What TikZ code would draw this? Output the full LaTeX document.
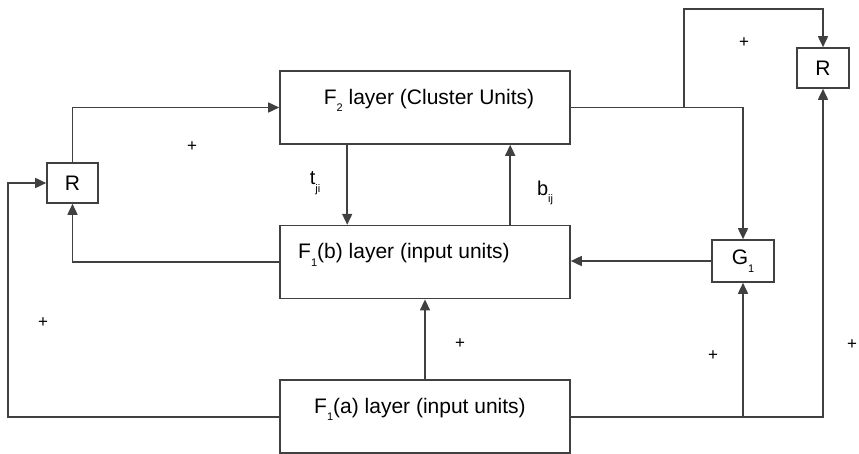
\documentclass[tikz,border=0pt]{standalone}
\usepackage{fontspec}
\setmainfont{Liberation Sans}
\usetikzlibrary{arrows.meta,positioning}
\definecolor{ink}{HTML}{404040}
\newcommand{\lowsub}[1]{\raisebox{-0.7ex}{\fontsize{11}{11}\selectfont #1}}

\begin{document}
\begin{tikzpicture}[
  x=1pt, y=-1pt,
  node distance=80pt,
  box/.style={draw=ink, line width=1.6pt, inner sep=0pt, font=\fontsize{21}{24}\selectfont},
  layer/.style={box, minimum width=290pt, text height=33pt, text depth=40pt},
  arr/.style={-{Triangle[length=11pt,width=10pt]}, draw=ink, line width=1.6pt},
  lbl/.style={font=\fontsize{20}{24}\selectfont, inner sep=0pt},
  sign/.style={font=\fontsize{17}{20}\selectfont, inner sep=0pt}
]
  \useasboundingbox (0,0) rectangle (859,453);
  % layers
  \node[layer] (F2) at (425,107.5) {\kern8pt F\lowsub{2} layer (Cluster Units)};
  \node[layer, below=80pt of F2] (F1b) {F\lowsub{1}(b) layer (input units)\kern42pt};
  \node[layer, below=80pt of F1b] (F1a) {F\lowsub{1}(a) layer (input units)\kern10pt};
  % small boxes
  \node[box, minimum width=51pt, minimum height=40pt] (Rl) at (72.5,183) {R};
  \node[box, minimum width=52pt, minimum height=40pt] (Rr) at (823,68) {R};
  \node[box, minimum width=62pt, minimum height=42pt] (G1) at (743,261) {G\lowsub{1}};
  \coordinate (lc) at (8,183);
  \coordinate (br) at (684,107.5);
  \coordinate (tp) at (684,9);
  % connectors
  \draw[arr] (F1a.west) -| (lc) -- (Rl.west);
  \draw[arr] (F1b.west) -| (Rl.south);
  \draw[arr] (Rl.north) |- (F2.west);
  \draw[arr] ([xshift=68pt]F2.south west) -- ([xshift=68pt]F1b.north west);
  \draw[arr] ([xshift=231pt]F1b.north west) -- ([xshift=231pt]F2.south west);
  \draw[arr] (F2.east) -| (G1.north);
  \draw[arr] (br) -- (tp) -| (Rr.north);
  \draw[arr] (G1.west) -- (F1b.east |- G1.west);
  \draw[arr] (F1a.east) -| (Rr.south);
  \draw[arr] (F1a.east -| G1.south) -- (G1.south);
  \draw[arr] (F1a.north) -- (F1b.south);
  % labels
  \node[lbl] (tji) at (315,183) {t\lowsub{ji}};
  \node[lbl] (bij) at (545,193) {b\lowsub{ij}};
  \node[sign] (p1) at (192,147) {+};
  \node[sign] (p2) at (744,43) {+};
  \node[sign] (p3) at (43,323) {+};
  \node[sign] (p4) at (460,344) {+};
  \node[sign] (p5) at (713,356) {+};
  \node[sign] (p6) at (852,345) {+};
\end{tikzpicture}
\end{document}
